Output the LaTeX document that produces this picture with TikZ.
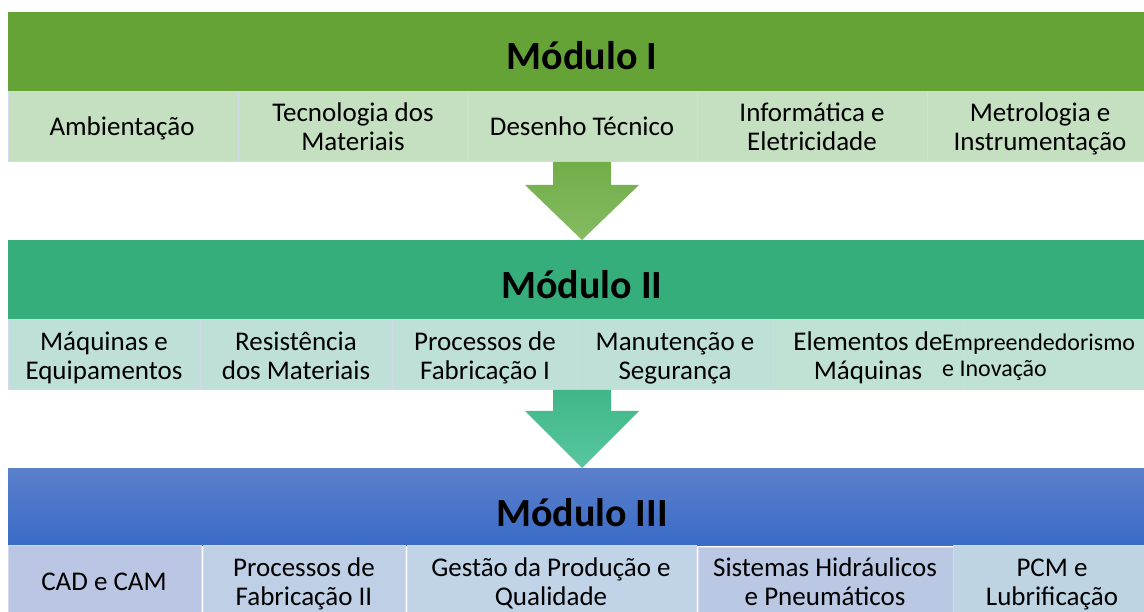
\documentclass[tikz,border=0pt]{standalone}
\usepackage{fontspec}
\setmainfont{Carlito}
\definecolor{hdrA}{HTML}{66A337}
\definecolor{hdrB}{HTML}{36AE7C}
\definecolor{hdrCt}{HTML}{5B80CB}
\definecolor{hdrCb}{HTML}{3A6BC7}
\definecolor{cellA}{HTML}{C5E0C1}
\definecolor{cellB}{HTML}{BEE0D9}
\definecolor{cellBb}{HTML}{BFE2D4}
\definecolor{cellC1}{HTML}{BBC6E4}
\definecolor{cellC2}{HTML}{BFCFE6}
\definecolor{cellC3}{HTML}{C0D3E7}
\definecolor{cellC4}{HTML}{BAC8E4}
\definecolor{cellC5}{HTML}{BED4E2}
\definecolor{cellline}{HTML}{D3D8EC}
\definecolor{arrAt}{HTML}{71AD48}
\definecolor{arrAb}{HTML}{85BB62}
\definecolor{arrBt}{HTML}{40B788}
\definecolor{arrBb}{HTML}{58C69E}
\newcommand{\lnst}{\strut}
\tikzset{
  hdrtext/.style={font=\fontsize{40}{44}\selectfont\bfseries, text=black, inner sep=0pt},
  celltext/.style={font=\fontsize{27}{29}\selectfont, align=center, text=black, inner sep=0pt},
  smalltext/.style={font=\fontsize{24}{26.5}\selectfont, align=left, text=black, inner sep=0pt},
  cellbox/.style={draw=cellline, line width=1pt},
}
\begin{document}
\begin{tikzpicture}[x=1pt,y=-1pt]
\useasboundingbox (0,0) rectangle (1144,612);
\clip (0,0) rectangle (1144,612);
\fill[white] (0,0) rectangle (1144,612);
% Module I
\fill[hdrA] (8,12) rectangle (1160,92);
\node[hdrtext] (m1) at (582,56) {Módulo I};
\path[cellbox, fill=cellA] (8,92) rectangle (238,162);
\path[cellbox, fill=cellA] (238,92) rectangle (467,162);
\path[cellbox, fill=cellA] (467,92) rectangle (697,162);
\path[cellbox, fill=cellA] (697,92) rectangle (927,162);
\path[cellbox, fill=cellA] (927,92) rectangle (1160,162);
\node[celltext] (a1) at (122,130) {\lnst Ambientação};
\node[celltext] (a2) at (353,130) {\lnst Tecnologia dos\\\lnst Materiais};
\node[celltext] (a3) at (582,130) {\lnst Desenho Técnico};
\node[celltext] (a4) at (812,130) {\lnst Informática e\\\lnst Eletricidade};
\node[celltext] (a5) at (1040,130) {\lnst Metrologia e\\\lnst Instrumentação};
% Arrow 1
\shade[top color=arrAt, bottom color=arrAb] (553,162) -- (611,162) -- (611,185) -- (639,185) -- (582,240) -- (525,185) -- (553,185) -- cycle;
% Module II
\fill[hdrB] (8,240) rectangle (1160,320);
\node[hdrtext] (m2) at (582,285) {Módulo II};
\path[cellbox, fill=cellB] (8,320) rectangle (200,390);
\path[cellbox, fill=cellB] (200,320) rectangle (392,390);
\path[cellbox, fill=cellB] (392,320) rectangle (577,390);
\path[cellbox, fill=cellB] (577,320) rectangle (773,390);
\path[cellbox, fill=cellBb] (773,320) rectangle (963,390);
\path[cellbox, fill=cellBb] (963,320) rectangle (1160,390);
\node[celltext] (b1) at (104,359) {\lnst Máquinas e\\\lnst Equipamentos};
\node[celltext] (b2) at (296,359) {\lnst Resistência\\\lnst dos Materiais};
\node[celltext] (b3) at (485,359) {\lnst Processos de\\\lnst Fabricação I};
\node[celltext] (b4) at (675,359) {\lnst Manutenção e\\\lnst Segurança};
\node[celltext] (b5) at (868,359) {\lnst Elementos de\\\lnst Máquinas};
\node[smalltext, anchor=west] (b6) at (942,358) {\lnst Empreendedorismo\\\lnst e Inovação};
% Arrow 2
\shade[top color=arrBt, bottom color=arrBb] (553,390) -- (611,390) -- (611,411) -- (639,411) -- (582,468) -- (525,411) -- (553,411) -- cycle;
% Module III
\shade[top color=hdrCt, bottom color=hdrCb] (8,468) rectangle (1160,545);
\node[hdrtext] (m3) at (582,513) {Módulo III};
\path[cellbox, fill=cellC1] (8,545) rectangle (201,620);
\path[cellbox, fill=cellC2] (203,545) rectangle (405,620);
\path[cellbox, fill=cellC3] (407,545) rectangle (696,620);
\path[cellbox, fill=cellC4] (698,547) rectangle (953,620);
\path[cellbox, fill=cellC5] (953,545) rectangle (1160,620);
\node[celltext] (c1) at (104,585) {\lnst CAD e CAM};
\node[celltext] (c2) at (304,585) {\lnst Processos de\\\lnst Fabricação II};
\node[celltext] (c3) at (551,585) {\lnst Gestão da Produção e\\\lnst Qualidade};
\node[celltext] (c4) at (825,585) {\lnst Sistemas Hidráulicos\\\lnst e Pneumáticos};
\node[celltext] (c5) at (1052,585) {\lnst PCM e\\\lnst Lubrificação};
\end{tikzpicture}
\end{document}
